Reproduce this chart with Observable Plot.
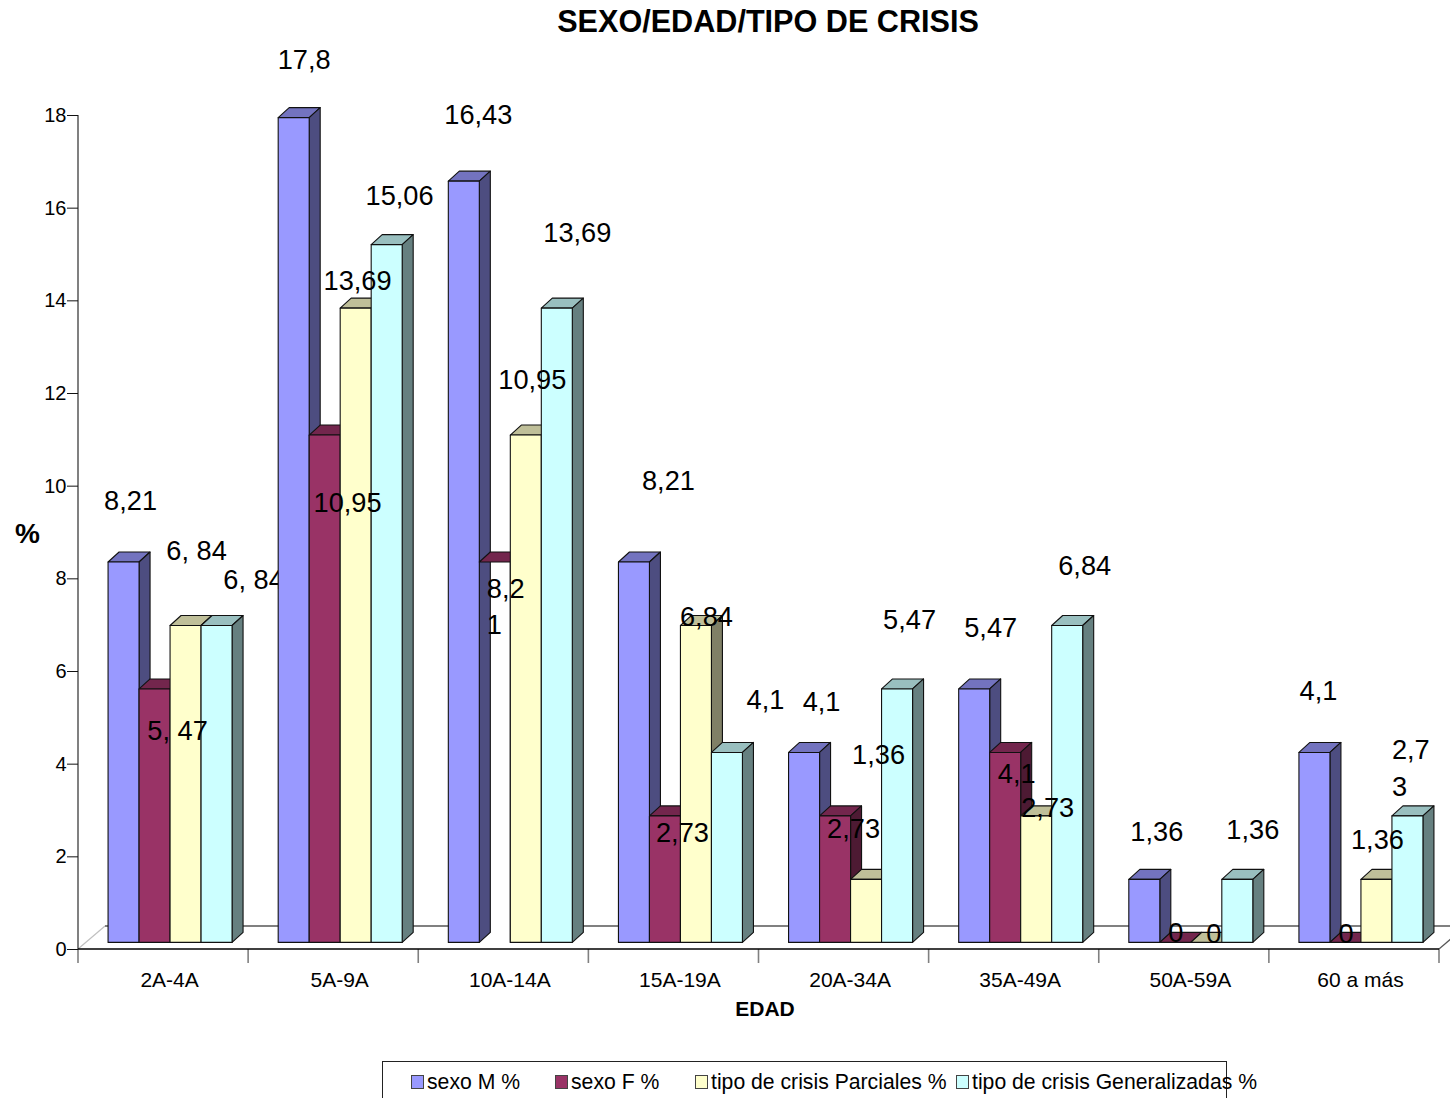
<!DOCTYPE html>
<html lang="es">
<head>
<meta charset="utf-8">
<title>SEXO/EDAD/TIPO DE CRISIS</title>
<script src="https://cdn.jsdelivr.net/npm/d3@7"></script>
<script src="https://cdn.jsdelivr.net/npm/@observablehq/plot@0.6"></script>
<style>
  html, body { margin: 0; padding: 0; background: #fff; }
  #page { position: relative; width: 1450px; height: 1098px; overflow: hidden; font-family: "Liberation Sans", Arial, sans-serif; color: #000; }
  #page svg { display: block; position: absolute; left: 0; top: 0; }
  #title { position: absolute; left: 0; top: 3px; width: 1536px; text-align: center; font-weight: bold; font-size: 30.6px; line-height: 36px; }
  #legend { position: absolute; left: 382px; top: 1061px; width: 843px; height: 80px; border: 1px solid #222; }
  .entry { position: absolute; top: 7px; white-space: nowrap; font-size: 21.2px; line-height: 26px; }
  .swatch { position: absolute; top: 6px; width: 11px; height: 12px; border: 1px solid #444; }
  .entry span.name { position: absolute; left: 16px; top: 0; }
</style>
</head>
<body>
<div id="page">
  <div id="chart"></div>
  <div id="title">SEXO/EDAD/TIPO DE CRISIS</div>
  <div id="legend"></div>
</div>
<script>
// Categories and series
const ageGroups = ["2A-4A", "5A-9A", "10A-14A", "15A-19A", "20A-34A", "35A-49A", "50A-59A", "60 a más"];
const seriesNames = ["sexo M %", "sexo F %", "tipo de crisis Parciales %", "tipo de crisis Generalizadas %"];
const seriesColors = ["#9999ff", "#993366", "#ffffcc", "#ccffff"];

// Percentages per age group
const sexoM = [8.21, 17.8, 16.43, 8.21, 4.1, 5.47, 1.36, 4.1];
const sexoF = [5.47, 10.95, 8.21, 2.73, 2.73, 4.1, 0, 0];
const parciales = [6.84, 13.69, 10.95, 6.84, 1.36, 2.73, 0, 1.36];
const generalizadas = [6.84, 15.06, 13.69, 4.1, 5.47, 6.84, 1.36, 2.73];
const seriesValues = [sexoM, sexoF, parciales, generalizadas];

// Data label texts, as written on the chart
const labelsM = ["8,21", "17,8", "16,43", "8,21", "4,1", "5,47", "1,36", "4,1"];
const labelsF = ["5, 47", "10,95", "8,2\n1", "2,73", "2,73", "4,1", "0", "0"];
const labelsP = ["6, 84", "13,69", "10,95", "6,84", "1,36", "2,73", "0", "1,36"];
const labelsG = ["6, 84", "15,06", "13,69", "4,1", "5,47", "6,84", "1,36", "2,7\n3"];
const seriesLabels = [labelsM, labelsF, labelsP, labelsG];

// Hand placement of each data label relative to the top of its bar
const shiftXM = [6.5, 10, 14, 34, 17, 16, 12, 3.5];
const shiftYM = [-60.6, -58, -66, -81, -51, -61, -47, -62];
const shiftXF = [22.5, 22.4, 11, 17, 18, 11, 0, 0];
const shiftYF = [42, 68, 45, 17.5, 13.5, 21, -9, -8];
const shiftXP = [10.5, 1.4, 6, 10, 12, 11, 7, 0.5];
const shiftYP = [-75, -27, -55, -9, -124, -7.5, -8, -39];
const shiftXG = [36.5, 12.4, 20, 38, 12, 17, 15, 3.5];
const shiftYG = [-46, -49, -75, -53, -69, -60, -49, -47.5];
const shiftsX = [shiftXM, shiftXF, shiftXP, shiftXG];
const shiftsY = [shiftYM, shiftYF, shiftYP, shiftYG];
const labelBaselineNudge = -3;
const wrappedLabelIndent = -19.5;

// Exceptions of the chart's own drawing order and fill
const labelBehindBars = ["2A-4A|3"];
const whiteFront = ["10A-14A|1"];

const legendLeft = [28, 172, 312, 573];
const yTicks = [0, 2, 4, 6, 8, 10, 12, 14, 16, 18];

// Long table built from the arrays above
const rows = ageGroups.flatMap((age, i) => seriesNames.map((series, j) => ({
  age, series, j,
  value: seriesValues[j][i],
  label: seriesLabels[j][i],
  shiftX: shiftsX[j][i],
  shiftY: shiftsY[j][i],
  key: `${age}|${j}`
})));

// Extrusion of the bars and of the floor
const front = {x: 7, y: -6.6};
const depth = {x: 11, y: -10};
const floorDepth = {x: 27, y: -23};
const poly = (pts) => pts.map((p) => p.join(",")).join(" ");
const shade = (color, k) => {
  const c = d3.rgb(color);
  return d3.rgb(c.r * k, c.g * k, c.b * k).formatHex();
};

// Front, top and side face of each bar in one facet, painted left to right
function drawBars(index, scales, values) {
  const bw = scales.x.bandwidth();
  const g = d3.create("svg:g").attr("stroke", "#111").attr("stroke-width", 1.1).attr("stroke-linejoin", "round");
  const order = Array.from(index).sort((a, b) => rows[a].j - rows[b].j);
  const box = (i) => {
    const x0 = values.x[i] + front.x;
    return {x0, x1: x0 + bw, top: values.y2[i] + front.y, base: values.y1[i] + front.y};
  };
  for (const i of order) {
    if (!whiteFront.includes(rows[i].key)) continue;
    const {x0, top, base} = box(i);
    g.append("rect").attr("x", x0).attr("y", top).attr("width", bw).attr("height", base - top)
      .attr("fill", "#fff").attr("stroke", "none");
  }
  for (const i of order) {
    const {x0, x1, top, base} = box(i);
    const color = values.fill[i];
    g.append("polygon").attr("fill", shade(color, 0.75))
      .attr("points", poly([[x0, top], [x0 + depth.x, top + depth.y], [x1 + depth.x, top + depth.y], [x1, top]]));
    g.append("polygon").attr("fill", shade(color, 0.5))
      .attr("points", poly([[x1, top], [x1 + depth.x, top + depth.y], [x1 + depth.x, base + depth.y], [x1, base]]));
    if (!whiteFront.includes(rows[i].key)) {
      g.append("rect").attr("x", x0).attr("y", top).attr("width", bw).attr("height", base - top).attr("fill", color);
    }
  }
  return g.node();
}

// Floor of the 3D box with its back edge and diagonals
function drawFloor(index, {fx, y}) {
  const left = fx(ageGroups[0]);
  const right = fx(ageGroups[ageGroups.length - 1]) + fx.bandwidth();
  const y0 = y(0);
  const g = d3.create("svg:g").attr("fill", "none");
  g.append("polyline").attr("stroke", "#c0c0c0").attr("stroke-width", 1.2)
    .attr("points", poly([[left, y0], [left + floorDepth.x, y0 + floorDepth.y]]));
  g.append("polyline").attr("stroke", "#808080").attr("stroke-width", 2)
    .attr("points", poly([[left + floorDepth.x, y0 + floorDepth.y], [right + floorDepth.x, y0 + floorDepth.y]]));
  g.append("polyline").attr("stroke", "#555").attr("stroke-width", 1.2)
    .attr("points", poly([[right, y0], [right + floorDepth.x, y0 + floorDepth.y]]));
  return g.node();
}

// Axis lines and the tick marks that separate the age groups
function drawAxes(index, {fx, y}) {
  const left = fx(ageGroups[0]);
  const right = fx(ageGroups[ageGroups.length - 1]) + fx.bandwidth();
  const y0 = y(0);
  const edges = ageGroups.map((a) => fx(a)).concat(right);
  const g = d3.create("svg:g").attr("fill", "none");
  g.selectAll("line.edge").data(edges).join("line")
    .attr("stroke", "#808080").attr("stroke-width", 1.6)
    .attr("x1", (d) => d).attr("x2", (d) => d).attr("y1", y0).attr("y2", y0 + 14);
  g.append("line").attr("stroke", "#808080").attr("stroke-width", 2)
    .attr("x1", left).attr("x2", left).attr("y1", y(yTicks[yTicks.length - 1])).attr("y2", y0);
  g.append("line").attr("stroke", "#000").attr("stroke-width", 1.5)
    .attr("x1", left).attr("x2", right).attr("y1", y0).attr("y2", y0);
  return g.node();
}

// A mark drawn once across the whole frame, from the plot's own scales
const wholeFrame = (render) => Plot.text(["frame"], {facet: "super", frameAnchor: "middle", render});

// Wrapped labels keep their lines flush left, the others are centred
const labelMark = (d) => {
  const wrapped = d.label.includes("\n");
  return Plot.text([d], {
    fx: "age", x: "series", y: "value", text: "label",
    dx: d.shiftX + front.x + (wrapped ? wrappedLabelIndent : 0),
    dy: d.shiftY + front.y + labelBaselineNudge,
    textAnchor: wrapped ? "start" : "middle",
    fontSize: 27.2, lineHeight: 1.33, lineAnchor: "middle", fill: "#000"
  });
};

const chart = Plot.plot({
  width: 1450,
  height: 1098,
  marginTop: 115,
  marginBottom: 149,
  marginLeft: 78,
  marginRight: 11,
  style: {fontFamily: "'Liberation Sans', Arial, sans-serif", background: "transparent", color: "#000"},
  fx: {domain: ageGroups, padding: 0, round: false, label: null},
  x: {domain: seriesNames, paddingInner: 0, paddingOuter: 0.744, round: false, axis: null},
  y: {domain: [0, 18], axis: null},
  color: {domain: seriesNames, range: seriesColors},
  marks: [
    wholeFrame(drawFloor),
    ...rows.filter((d) => labelBehindBars.includes(d.key)).map(labelMark),
    Plot.barY(rows, {fx: "age", x: "series", y: "value", fill: "series", render: drawBars}),
    ...rows.filter((d) => !labelBehindBars.includes(d.key)).map(labelMark),
    wholeFrame(drawAxes),
    Plot.axisY({ticks: yTicks, tickSize: 11, tickPadding: 1, fontSize: 20, label: null, stroke: "#111"}),
    Plot.axisFx({anchor: "bottom", tickSize: 0, tickPadding: 23, dx: 6, fontSize: 21, label: null}),
    Plot.text(["EDAD"], {facet: "super", frameAnchor: "bottom", dx: 6, dy: 60, lineAnchor: "middle", fontSize: 21, fontWeight: "bold"}),
    Plot.text(["%"], {facet: "super", frameAnchor: "left", dx: -63.5, dy: 2, lineAnchor: "middle", fontSize: 28, fontWeight: "bold"})
  ]
});
document.getElementById("chart").append(chart);

// Legend row, deliberately wider than its frame on the right
const legend = d3.select("#legend");
seriesNames.forEach((name, j) => {
  const entry = legend.append("div").attr("class", "entry").style("left", `${legendLeft[j]}px`);
  entry.append("div").attr("class", "swatch").style("background", seriesColors[j]);
  entry.append("span").attr("class", "name").text(name);
});
</script>
</body>
</html>
